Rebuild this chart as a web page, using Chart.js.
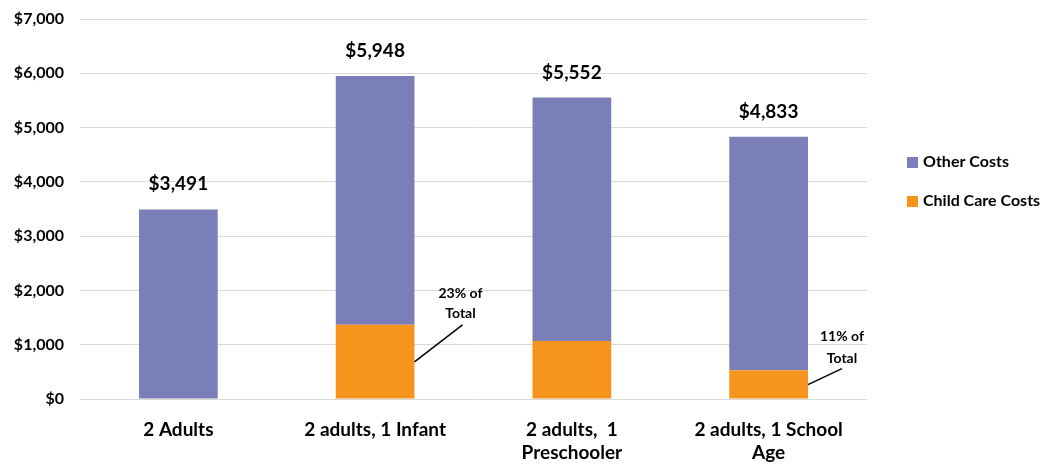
<!DOCTYPE html>
<html>
<head>
<meta charset="utf-8">
<script src="https://cdn.jsdelivr.net/npm/chart.js@4"></script>
<style>
  html, body { margin: 0; padding: 0; background: #fff; }
  #wrap { width: 1052px; height: 467px; position: relative; }
</style>
</head>
<body>
<div id="wrap"><canvas id="cost-chart"></canvas></div>
<script>
  const categories = ["2 Adults", "2 adults, 1 Infant", ["2 adults,  1", "Preschooler"], ["2 adults, 1 School", "Age"]];
  const monthlyTotals = [3491, 5948, 5552, 4833];
  const childCareCosts = [0, 1368, 1070, 530];
  const otherCosts = monthlyTotals.map((t, i) => t - childCareCosts[i]);
  const callouts = [null, ["23% of", "Total"], null, ["11% of", "Total"]];
  const yTicks = [0, 1000, 2000, 3000, 4000, 5000, 6000, 7000];

  const FONT = "Lato, 'Open Sans', sans-serif";
  const PURPLE = "#7B7FB9";
  const ORANGE = "#F7941E";

  const fmtMoney = (v) => "$" + v.toLocaleString("en-US");

  // totals above each stack, callouts next to the child care segment, legend on the right
  const overlay = {
    id: "overlay",
    afterDatasetsDraw(chart) {
      const { ctx, scales } = chart;
      const y = scales.y;
      const careMeta = chart.getDatasetMeta(0);
      ctx.save();
      ctx.fillStyle = "#000";
      ctx.textAlign = "center";
      ctx.textBaseline = "alphabetic";
      ctx.font = `bold 19px ${FONT}`;
      monthlyTotals.forEach((t, i) => {
        const x = careMeta.data[i].x;
        ctx.fillText(fmtMoney(t), x, y.getPixelForValue(t) - 19);
      });

      // line end (lx, ly), text centre tx, baselines ty1/ty2, relative to the segment's right edge and middle
      const offsets = [null,
        { lx: 48, ly: -37, tx: 46, ty1: -64, ty2: -44 },
        null,
        { lx: 34, ly: -16, tx: 34, ty1: -44, ty2: -22 }];
      callouts.forEach((lines, i) => {
        if (!lines) return;
        const bar = careMeta.data[i];
        const right = bar.x + bar.width / 2;
        const mid = y.getPixelForValue(childCareCosts[i] / 2);
        const o = offsets[i];
        ctx.strokeStyle = "#000";
        ctx.lineWidth = 1.5;
        ctx.beginPath();
        ctx.moveTo(right, mid);
        ctx.lineTo(right + o.lx, mid + o.ly);
        ctx.stroke();
        ctx.font = `bold 14px ${FONT}`;
        ctx.fillText(lines[0], right + o.tx, mid + o.ty1);
        ctx.fillText(lines[1], right + o.tx, mid + o.ty2);
      });

      // legend, listed in reverse stacking order
      ctx.textAlign = "left";
      ctx.textBaseline = "middle";
      ctx.font = `bold 16px ${FONT}`;
      const items = [[chart.data.datasets[1], 162], [chart.data.datasets[0], 201]];
      items.forEach(([ds, ly]) => {
        ctx.fillStyle = ds.backgroundColor;
        ctx.fillRect(907, ly - 5, 11, 11);
        ctx.fillStyle = "#000";
        ctx.fillText(ds.label, 923, ly);
      });
      ctx.restore();
    },
  };

  new Chart(document.getElementById("cost-chart"), {
    type: "bar",
    data: {
      labels: categories,
      datasets: [
        { label: "Child Care Costs", data: childCareCosts, backgroundColor: ORANGE },
        { label: "Other Costs", data: otherCosts, backgroundColor: PURPLE },
      ],
    },
    options: {
      responsive: true,
      maintainAspectRatio: false,
      animation: false,
      layout: { padding: { top: 19, right: 185, bottom: 0, left: 0 } },
      plugins: { legend: { display: false }, tooltip: { enabled: false } },
      datasets: { bar: { categoryPercentage: 0.4, barPercentage: 1 } },
      scales: {
        x: {
          stacked: true,
          grid: { display: false },
          border: { display: false },
          ticks: { color: "#000", font: { family: FONT, size: 19, weight: "bold", lineHeight: 1.18 }, padding: 12, maxRotation: 0 },
          afterFit(s) { s.height = 68; },
        },
        y: {
          stacked: true,
          min: 0,
          max: 7000,
          afterBuildTicks(s) { s.ticks = yTicks.map((v) => ({ value: v })); },
          grid: { color: "#D9D9D9", lineWidth: 1, drawTicks: false },
          border: { display: false },
          ticks: { color: "#000", font: { family: FONT, size: 16, weight: "bold" }, padding: 16, callback: (v) => fmtMoney(v) },
          afterFit(s) {
            s.width = 80;
            s.paddingTop = 0;
            s.paddingBottom = 0;
          },
        },
      },
    },
    plugins: [overlay],
  });
</script>
</body>
</html>
